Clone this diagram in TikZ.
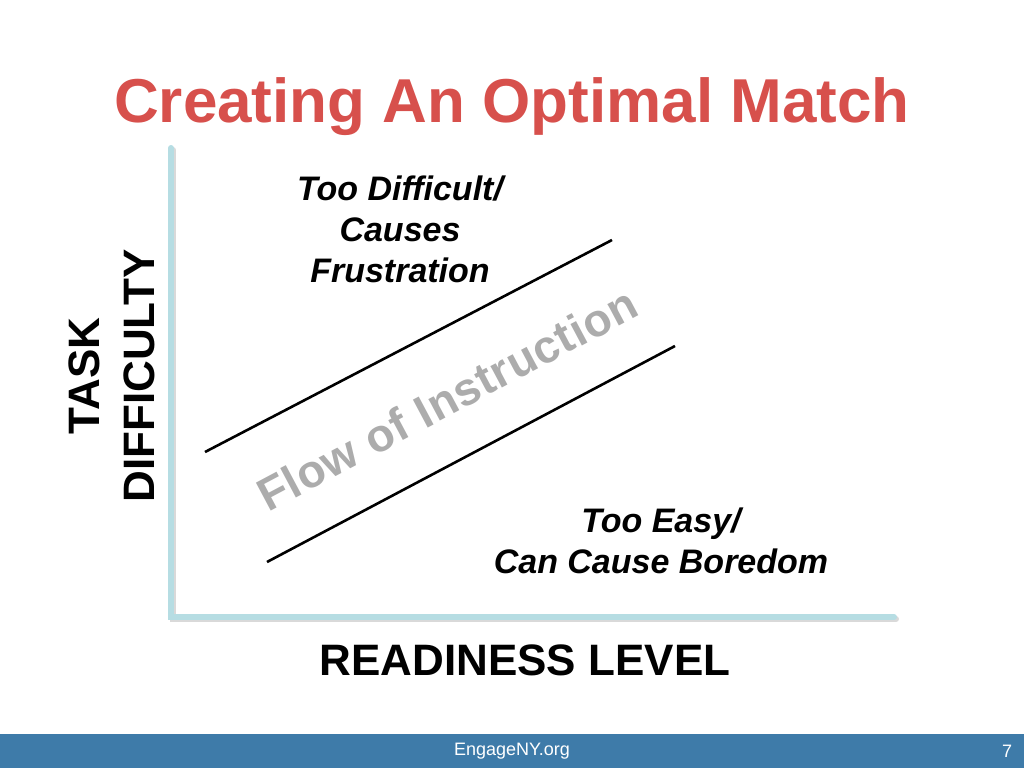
\documentclass[tikz,border=0pt]{standalone}
\usepackage{fontspec}
\setmainfont{Liberation Sans}
\definecolor{titlered}{RGB}{215,80,76}
\definecolor{axisblue}{RGB}{182,221,227}
\definecolor{footblue}{RGB}{62,123,169}
\definecolor{flowgray}{RGB}{172,172,172}

\begin{document}
\begin{tikzpicture}[x=1pt, y=-1pt, thick]
    \useasboundingbox (0,0) rectangle (1024,768);
    \tikzset{
        axisline/.style={line width=6pt, axisblue, line cap=round},
        bandline/.style={line width=2.6pt, black},
        zonetext/.style={font=\fontsize{34}{41}\selectfont\bfseries\itshape, align=center, inner sep=0pt},
        axislabel/.style={font=\fontsize{44}{55}\selectfont\bfseries, align=center, inner sep=0pt}
    }
    % Title
    \node[anchor=base, text=titlered, font=\fontsize{62}{70}\selectfont\bfseries, inner sep=0pt] (title) at (512,122) {Creating An Optimal Match};
    % Axes
    \coordinate (axtop) at (171,148);
    \coordinate (origin) at (171,617);
    \coordinate (axright) at (894,617);
    \draw[line width=6pt, black!15, line cap=round] ([shift={(2,2)}]axtop) -- ([shift={(2,2)}]origin) -- ([shift={(2,2)}]axright);
    \draw[axisline] (axtop) -- (origin) -- (axright);
    % Band of instruction
    \coordinate (upperA) at (205,452);
    \coordinate (upperB) at (612,240);
    \coordinate (lowerA) at (267,562);
    \coordinate (lowerB) at (675,346);
    \draw[bandline] (upperA) -- (upperB);
    \draw[bandline] (lowerA) -- (lowerB);
    % Flow of Instruction
    \node[rotate=28, text=flowgray, font=\fontsize{46}{50}\selectfont\bfseries\addfontfeature{LetterSpace=1.5}, inner sep=0pt] (flow) at (447,399) {Flow of Instruction};
    % Zones
    \node[zonetext] (hard) at (400,229) {Too Difficult/\\Causes\\Frustration};
    \node[zonetext] (easy) at (661,541) {Too Easy/\\Can Cause Boredom};
    % Axis labels
    \node[axislabel, rotate=90] (ylabel) at (112,376) {TASK\\DIFFICULTY};
    \node[axislabel, anchor=base] (xlabel) at (525,675) {READINESS LEVEL};
    % Footer
    \fill[footblue] (0,734) rectangle (1024,768);
    \node[text=white, font=\fontsize{18}{20}\selectfont] (site) at (512,751) {EngageNY.org};
    \node[text=white, font=\fontsize{18}{20}\selectfont] (page) at (1007,751) {7};
\end{tikzpicture}
\end{document}
